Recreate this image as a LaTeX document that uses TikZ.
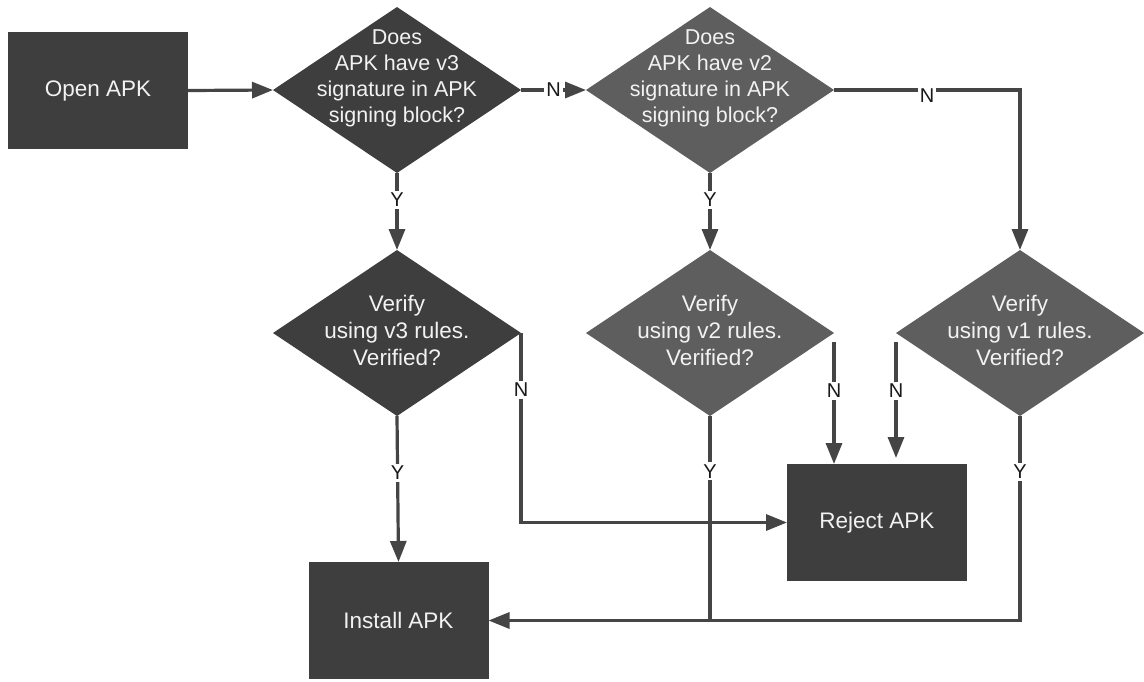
\documentclass[tikz,border=0pt]{standalone}
\usepackage{fontspec}
\setmainfont{Liberation Sans}
\usetikzlibrary{shapes.geometric,arrows.meta}
\definecolor{boxdark}{HTML}{3E3E3E}
\definecolor{boxlight}{HTML}{5E5E5E}
\definecolor{wire}{HTML}{454545}
\definecolor{boxtext}{HTML}{F2F2F2}

\begin{document}
\begin{tikzpicture}[x=1pt,y=-1pt,
  procbox/.style={rectangle, fill=boxdark, draw=none, minimum width=180pt,
    minimum height=117pt, inner sep=0pt, outer sep=0pt, text=boxtext,
    font=\fontsize{22.5}{26}\selectfont},
  decision/.style={diamond, draw=none, minimum width=248pt, minimum height=166pt,
    inner sep=0pt, outer sep=0pt},
  darkdec/.style={decision, fill=boxdark},
  lightdec/.style={decision, fill=boxlight},
  asktext/.style={align=center, text=boxtext, inner sep=0pt,
    font=\fontsize{21.5}{26}\selectfont},
  checktext/.style={align=center, text=boxtext, inner sep=0pt,
    font=\fontsize{22.5}{27}\selectfont},
  flow/.style={draw=wire, line width=3.2pt, -{Triangle[length=21pt,width=16pt]}},
  plain/.style={draw=wire, line width=3.2pt},
  yn/.style={fill=white, inner sep=2pt, text=black!90,
    font=\fontsize{20}{20}\selectfont},
]
\useasboundingbox (0,0) rectangle (1144,681);

% process boxes
\node[procbox] (open) at (98,90.5) {Open APK};
\node[procbox] (reject) at (877,522.5) {Reject APK};
\node[procbox] (install) at (398.5,620.5) {Install APK};

% decisions about the signing block
\node[darkdec] (q3) at (397,90) {};
\node[asktext] (q3t) at (397,78) {Does\\APK have v3\\signature in APK\\signing block?};
\node[lightdec] (q2) at (710,90) {};
\node[asktext] (q2t) at (710,78) {Does\\APK have v2\\signature in APK\\signing block?};

% verification decisions
\node[darkdec] (v3) at (397,333) {};
\node[checktext] (v3t) at (397,330) {Verify\\using v3 rules.\\Verified?};
\node[lightdec] (v2) at (710,333) {};
\node[checktext] (v2t) at (710,330) {Verify\\using v2 rules.\\Verified?};
\node[lightdec] (v1) at (1020,333) {};
\node[checktext] (v1t) at (1020,330) {Verify\\using v1 rules.\\Verified?};

% connectors
\draw[flow] (open.east) -- (q3.west);
\draw[flow] (q3.east) -- node[yn]{N} (q2.west);
\draw[flow] (q3.south) -- node[yn,pos=0.35]{Y} (v3.north);
\draw[flow] (q2.south) -- node[yn,pos=0.35]{Y} (v2.north);
\draw[flow] (q2.east) -| node[yn,pos=0.25,yshift=-6pt]{N} (v1.north);

\draw[flow] (v3.south) -- node[yn,pos=0.39]{Y} (install.north);
\draw[flow] (v3.east) |- node[yn,pos=0.15]{N} (reject.west);
\draw[flow, shorten <=9pt] (v2.east) -- node[yn,pos=0.44]{N} (v2.east |- reject.north);
\draw[flow, shorten <=9pt, shorten >=6pt] (v1.west) -- node[yn,pos=0.44]{N} (v1.west |- reject.north);

\coordinate (join) at (v2.south |- install.east);
\draw[plain] (v2.south) -- node[yn,pos=0.27]{Y} (join);
\draw[flow] (v1.south) |- node[yn,pos=0.137]{Y} (install.east);
\end{tikzpicture}
\end{document}
